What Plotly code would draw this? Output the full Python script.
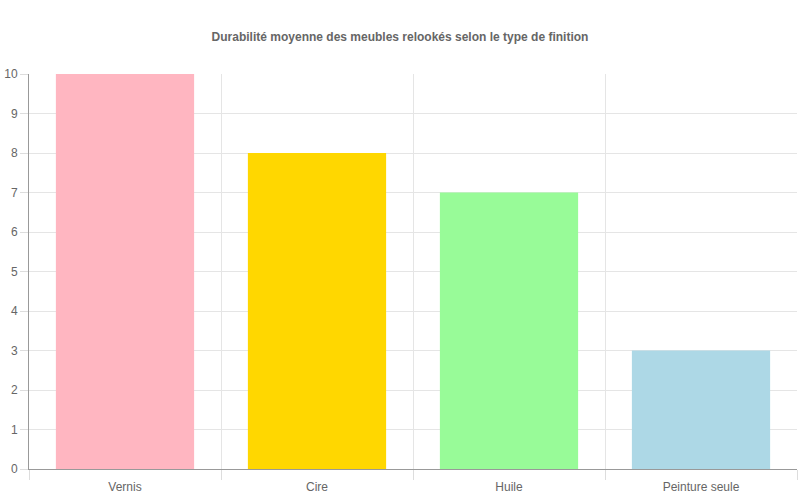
import plotly.graph_objects as go

categories = ["Vernis", "Cire", "Huile", "Peinture seule"]
durabilite = [10, 8, 7, 3]
bar_colors = ["#FFB6C1", "#FFD700", "#98FB98", "#ADD8E6"]

fig = go.Figure()
fig.add_trace(go.Bar(
    x=categories,
    y=durabilite,
    marker=dict(color=bar_colors, line=dict(width=0)),
    showlegend=False,
))

tick_font = dict(family="Liberation Sans, Arial, sans-serif", size=12, color="#666666")

fig.update_layout(
    template="none",
    width=800,
    height=500,
    paper_bgcolor="white",
    plot_bgcolor="white",
    font=tick_font,
    title=dict(
        text="<b>Durabilité moyenne des meubles relookés selon le type de finition</b>",
        x=0.5, xanchor="center", xref="container",
        y=1 - 37 / 500, yref="container", yanchor="middle",
        font=dict(size=12, color="#666666"),
    ),
    margin=dict(l=29, r=3, t=74, b=31, autoexpand=False),
    bargap=0.28,
)

fig.update_xaxes(
    type="category",
    automargin=False,
    tickson="boundaries",
    ticks="outside",
    ticklen=10,
    tickcolor="#dddddd",
    tickfont=tick_font,
    ticklabelstandoff=7,
    showgrid=True,
    gridcolor="#e5e5e5",
    showline=True,
    linecolor="#999999",
    zeroline=False,
)
fig.update_yaxes(
    range=[0, 10],
    dtick=1,
    automargin=False,
    ticks="outside",
    ticklen=8,
    tickcolor="#dddddd",
    tickfont=tick_font,
    showgrid=True,
    gridcolor="#e5e5e5",
    zeroline=False,
    showline=True,
    linecolor="#999999",
)

# page body has a default 8px margin; remove it so the figure sits at (0, 0)
fig.write_html(
    "out.html",
    config={"displayModeBar": False},
    post_script="document.body.style.margin='0';",
)
